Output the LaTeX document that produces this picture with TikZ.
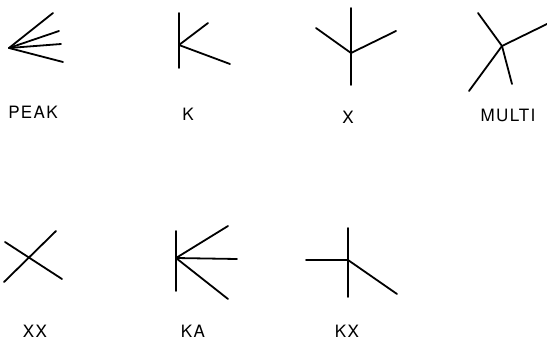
\documentclass[tikz,border=0pt]{standalone}
\usepackage{fontspec}
\usepackage{tikz}
\newfontfamily\lblfont[LetterSpace=8]{TeX Gyre Heros}
\tikzset{
  stroke/.style={draw=black, line width=1.8pt, line cap=round, line join=round},
  lbl/.style={font=\lblfont\fontsize{17}{17}\selectfont, inner sep=0pt, anchor=center}
}
\begin{document}
\begin{tikzpicture}[x=1pt, y=-1pt]
  \useasboundingbox (0,0) rectangle (547,343);
  % top row
  \coordinate (peak) at (9,48);
  \draw[stroke] (peak) -- (53,13);
  \draw[stroke] (peak) -- (59,31);
  \draw[stroke] (peak) -- (61,44);
  \draw[stroke] (peak) -- (63,62);
  \node[lbl] (peaklbl) at (33,112) {PEAK};

  \coordinate (k) at (179,45);
  \draw[stroke] (179,13) -- (179,68);
  \draw[stroke] (k) -- (208,23);
  \draw[stroke] (k) -- (230,64);
  \node[lbl] (klbl) at (188,114) {K};

  \coordinate (x) at (351,53);
  \draw[stroke] (351,8) -- (351,85);
  \draw[stroke] (x) -- (316,28);
  \draw[stroke] (x) -- (396,31);
  \node[lbl] (xlbl) at (348,117) {X};

  \coordinate (multi) at (502,46);
  \draw[stroke] (multi) -- (478,13);
  \draw[stroke] (multi) -- (547,24);
  \draw[stroke] (multi) -- (469,91);
  \draw[stroke] (multi) -- (512,84);
  \node[lbl] (multilbl) at (508,115) {MULTI};

  % bottom row
  \coordinate (xx) at (29,258);
  \draw[stroke] (5,242) -- (62,279);
  \draw[stroke] (4,282) -- (56,231);
  \node[lbl] (xxlbl) at (35,331) {XX};

  \coordinate (ka) at (176,258);
  \draw[stroke] (176,231) -- (176,291);
  \draw[stroke] (ka) -- (228,226);
  \draw[stroke] (ka) -- (237,259);
  \draw[stroke] (ka) -- (228,299);
  \node[lbl] (kalbl) at (193,331) {KA};

  \coordinate (kx) at (348,260);
  \draw[stroke] (348,228) -- (348,297);
  \draw[stroke] (kx) -- (306,260);
  \draw[stroke] (kx) -- (397,294);
  \node[lbl] (kxlbl) at (347,331) {KX};
\end{tikzpicture}
\end{document}
